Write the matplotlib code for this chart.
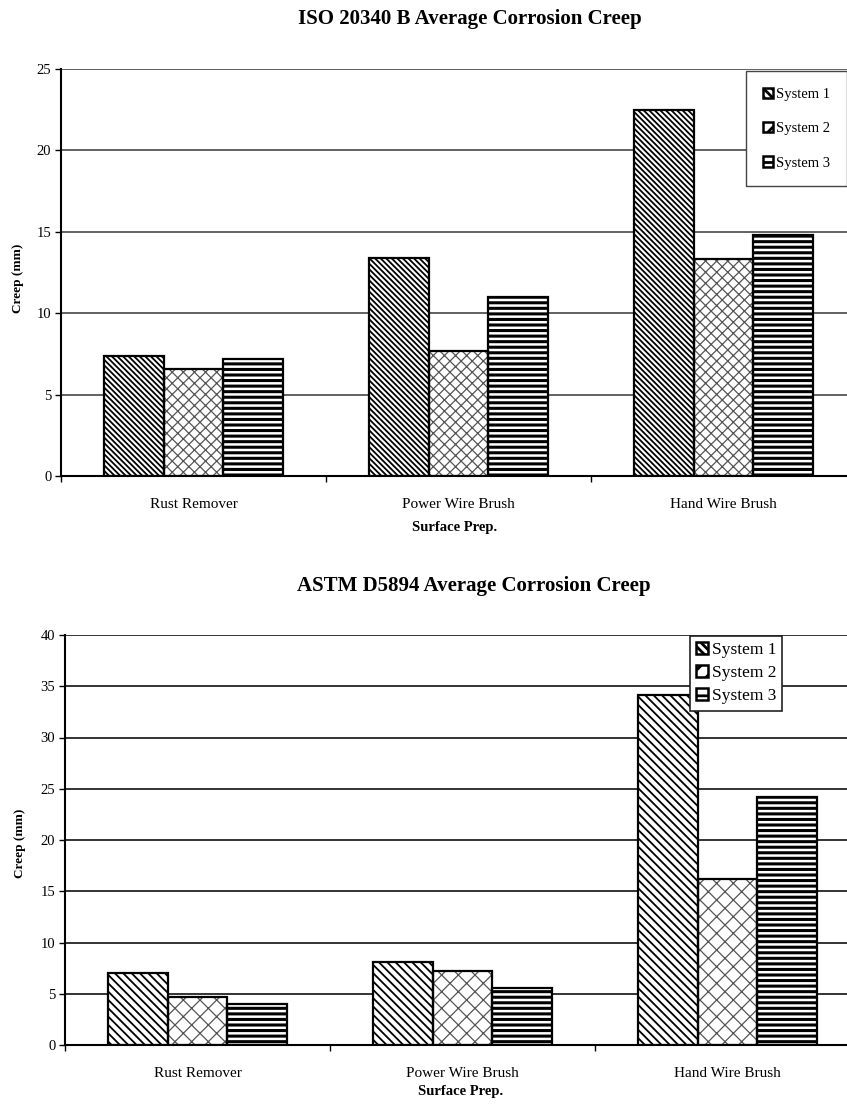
import matplotlib
matplotlib.use("Agg")
import matplotlib.pyplot as plt
from matplotlib.patches import Patch
import numpy as np

categories = ["Rust Remover", "Power Wire Brush", "Hand Wire Brush"]
series_names = ["System 1", "System 2", "System 3"]

iso_s1 = [7.4, 13.4, 22.5]
iso_s2 = [6.6, 7.7, 13.3]
iso_s3 = [7.2, 11.0, 14.8]

astm_s1 = [7.0, 8.1, 34.1]
astm_s2 = [4.7, 7.2, 16.2]
astm_s3 = [4.0, 5.6, 24.2]

iso_title = "ISO 20340 B Average Corrosion Creep"
astm_title = "ASTM D5894 Average Corrosion Creep"
ylabel = "Creep (mm)"
xlabel = "Surface Prep."

plt.rcParams['font.family'] = ['Liberation Serif', 'DejaVu Serif']

W, H = 847, 1104
fig = plt.figure(figsize=(W / 100, H / 100), dpi=100)


def px_axes(l, r, t, b):
    return [l / W, 1 - b / H, (r - l) / W, (b - t) / H]


def draw(ax, data, hatches, hcolors, hlw, ymax):
    x = np.arange(len(categories))
    bw = 0.224
    offs = [-bw, 0, bw]
    for vals, off, h, hc, lw, name in zip(data, offs, hatches, hcolors, hlw, series_names):
        with plt.rc_context({'hatch.linewidth': lw}):
            ax.bar(x + off, vals, bw, color='white', edgecolor=hc, hatch=h,
                   linewidth=0, zorder=3, label=name)
        ax.bar(x + off, vals, bw, fill=False, edgecolor='black', linewidth=1.6, zorder=4)
    ax.set_xlim(-0.5, len(categories) - 0.5)
    ax.set_ylim(0, ymax)
    ax.set_xticks(x)
    ax.set_xticklabels(categories, fontsize=11)
    ax.set_xticks(np.arange(len(categories) + 1) - 0.5, minor=True)
    ax.tick_params(axis='x', which='major', length=0, pad=16)
    ax.tick_params(axis='x', which='minor', length=4, direction='out', width=1)
    ax.tick_params(axis='y', length=4, direction='out', width=1, labelsize=10.5, pad=3)
    ax.yaxis.grid(True, color='#555555', linewidth=1.3, zorder=0)
    ax.set_axisbelow(True)
    for s in ['top', 'right']:
        ax.spines[s].set_visible(False)
    ax.spines['left'].set_linewidth(1.5)
    ax.spines['bottom'].set_linewidth(1.5)
    ax.spines['bottom'].set_zorder(5)


def legend_handles(hatches):
    hs = []
    for h in hatches:
        hs.append(Patch(facecolor='white', edgecolor='black', hatch=h, linewidth=1.8))
    return hs


leg_hatches = ['\\\\\\\\', '//', '--']

# Top chart
ax1 = fig.add_axes(px_axes(61, 856, 69, 476))
draw(ax1, [iso_s1, iso_s2, iso_s3], ['\\\\\\\\\\\\', 'xxx', '---'],
     ['black', '#555555', 'black'], [1.3, 0.9, 2.2], 25)
ax1.set_yticks([0, 5, 10, 15, 20, 25])
fig.text(470 / W, 1 - 19 / H, iso_title, ha='center', va='center', fontsize=15, fontweight='bold')
fig.text(455 / W, 1 - 527 / H, xlabel, ha='center', va='center', fontsize=10.5, fontweight='bold')
fig.text(18 / W, 1 - 278 / H, ylabel, ha='center', va='center', fontsize=9.5, fontweight='bold', rotation=90)
with plt.rc_context({'hatch.linewidth': 2.0}):
    leg1 = fig.legend(handles=legend_handles(leg_hatches), labels=series_names, loc='upper right',
                      bbox_to_anchor=(847 / W, 1 - 71 / H), bbox_transform=fig.transFigure,
                      fontsize=10.5, handlelength=0.7, handleheight=0.7, handletextpad=0.2,
                      labelspacing=1.45, borderpad=1.15, fancybox=False, framealpha=1,
                      edgecolor='#444444', borderaxespad=0)
leg1.get_frame().set_linewidth(1.0)

# Bottom chart
ax2 = fig.add_axes(px_axes(65, 860, 635, 1045))
draw(ax2, [astm_s1, astm_s2, astm_s3], ['\\\\\\\\', 'xx', '---'],
     ['black', '#555555', 'black'], [1.3, 0.9, 2.2], 40)
ax2.set_yticks(np.arange(0, 41, 5))
ax2.yaxis.grid(True, color='#333333', linewidth=1.4, zorder=0)
fig.text(474 / W, 1 - 586 / H, astm_title, ha='center', va='center', fontsize=15, fontweight='bold')
fig.text(461 / W, 1 - 1092 / H, xlabel, ha='center', va='center', fontsize=10.5, fontweight='bold')
fig.text(20 / W, 1 - 843 / H, ylabel, ha='center', va='center', fontsize=9.5, fontweight='bold', rotation=90)
with plt.rc_context({'hatch.linewidth': 2.0}):
    leg2 = fig.legend(handles=legend_handles(leg_hatches), labels=series_names, loc='upper left',
                      bbox_to_anchor=(690 / W, 1 - 636 / H), bbox_transform=fig.transFigure,
                      fontsize=12.5, handlelength=0.7, handleheight=0.7, handletextpad=0.2,
                      labelspacing=0.4, borderpad=0.35, fancybox=False, framealpha=1,
                      edgecolor='#222222', borderaxespad=0)
leg2.get_frame().set_linewidth(1.2)

fig.savefig("out.png", dpi=100)
